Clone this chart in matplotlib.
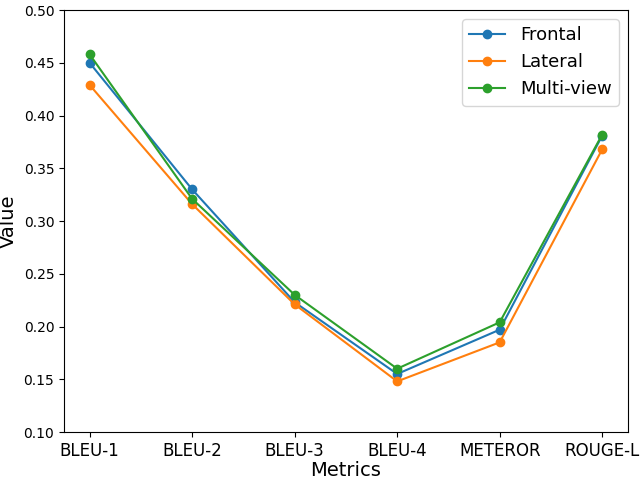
import matplotlib
matplotlib.use("Agg")
import matplotlib.pyplot as plt

metrics = ["BLEU-1", "BLEU-2", "BLEU-3", "BLEU-4", "METEROR", "ROUGE-L"]
frontal = [0.450, 0.330, 0.223, 0.155, 0.197, 0.381]
lateral = [0.429, 0.316, 0.221, 0.148, 0.185, 0.368]
multi_view = [0.458, 0.321, 0.230, 0.160, 0.204, 0.382]

plt.figure(figsize=(6.4, 4.8))
plt.plot(metrics, frontal, marker="o", label="Frontal")
plt.plot(metrics, lateral, marker="o", label="Lateral")
plt.plot(metrics, multi_view, marker="o", label="Multi-view")
plt.ylim(0.10, 0.50)
plt.xlabel("Metrics", fontsize=14, labelpad=1)
plt.ylabel("Value", fontsize=14)
plt.xticks(fontsize=12)
plt.legend(fontsize=13)
plt.subplots_adjust(left=0.1, right=0.981, top=0.979, bottom=0.1)
plt.savefig("out.png")
